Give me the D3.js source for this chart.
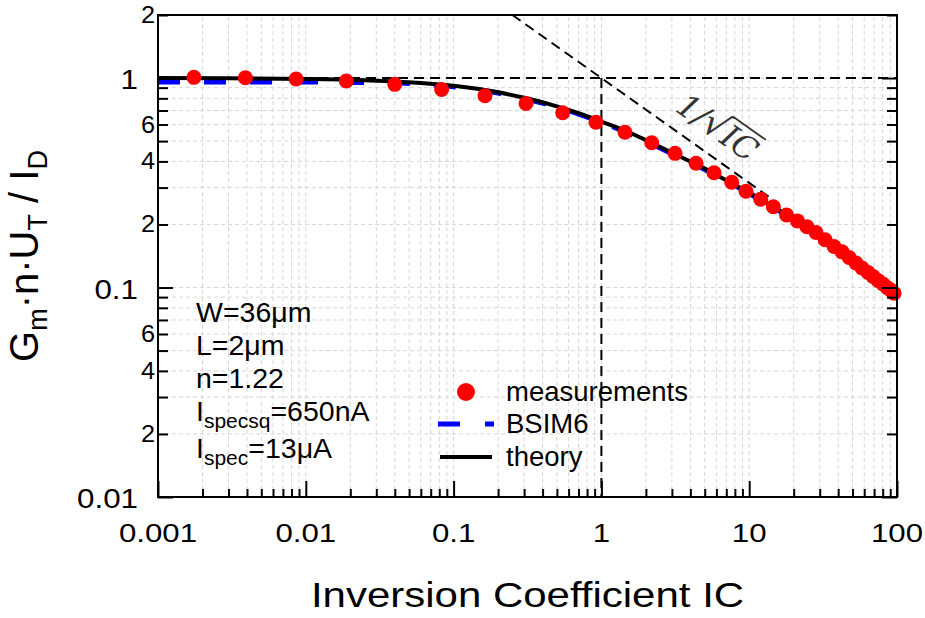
<!DOCTYPE html>
<html>
<head>
<meta charset="utf-8">
<script src="https://cdn.jsdelivr.net/npm/d3@7"></script>
<style>
  body { margin: 0; background: #fff; }
  svg { display: block; font-family: "Liberation Sans", Arial, sans-serif; }
</style>
</head>
<body>
<svg id="chart" width="925" height="618"></svg>
<script>
// measured points (IC, Gm*n*UT/ID)
const measIC = [0.00175, 0.0039, 0.0086, 0.0188, 0.040, 0.083, 0.163, 0.309, 0.547, 0.919,
  1.445, 2.19, 3.15, 4.37, 5.78, 7.62, 9.51, 11.96, 14.56, 17.9, 21.2,
  24.6, 28.3, 32.6, 37.5, 42.5, 47.4, 52.8, 58.0, 63.7, 68.8, 74.4, 80.4, 85.6, 91.1, 95.5];
const measGm = [1.008, 1.003, 0.989, 0.968, 0.933, 0.883, 0.823, 0.757, 0.683, 0.615,
  0.551, 0.491, 0.437, 0.392, 0.353, 0.318, 0.288, 0.264, 0.243, 0.222, 0.208,
  0.195, 0.183, 0.169, 0.157, 0.148, 0.139, 0.131, 0.124, 0.118, 0.113, 0.108, 0.104, 0.100, 0.097, 0.094];

// theory curve
const theoryIC = [0.001, 0.003, 0.01, 0.03, 0.06, 0.1, 0.2, 0.3, 0.5, 0.7, 1, 1.5, 2, 3, 5, 7, 10, 20, 30, 50, 70, 100];
const theoryGm = [1.0, 0.998, 0.99, 0.972, 0.948, 0.918, 0.855, 0.805, 0.733, 0.68, 0.62, 0.555, 0.505, 0.44, 0.37, 0.325, 0.284, 0.212, 0.176, 0.136, 0.112, 0.092];

// BSIM6 curve
const bsimIC = [0.001, 0.003, 0.01, 0.03, 0.06, 0.1, 0.2, 0.3, 0.5, 0.7, 1, 1.5, 2, 3, 5, 7, 10, 20, 30, 50, 70, 100];
const bsimGm = [0.958, 0.958, 0.957, 0.952, 0.935, 0.908, 0.848, 0.798, 0.726, 0.673, 0.613, 0.548, 0.499, 0.435, 0.366, 0.322, 0.281, 0.21, 0.174, 0.135, 0.111, 0.091];

// asymptote 1/sqrt(IC)
const asymIC = [0.25, 14];
const asymGm = [2, 0.267];

const xTickValues = [0.001, 0.01, 0.1, 1, 10, 100];
const xTickLabels = ["0.001", "0.01", "0.1", "1", "10", "100"];
const yMajorValues = [0.01, 0.1, 1];
const yMajorLabels = ["0.01", "0.1", "1"];
const yMinorLabelValues = [0.02, 0.04, 0.06, 0.2, 0.4, 0.6, 2];
const yMinorLabels = ["2", "4", "6", "2", "4", "6", "2"];

const annotations = [["W=36μm"], ["L=2μm"], ["n=1.22"], ["I", "specsq", "=650nA"], ["I", "spec", "=13μA"]];
const annotationBaselines = [322, 355, 388, 421, 458];
const legendLabels = ["measurements", "BSIM6", "theory"];

const width = 925, height = 618;
const padding = { top: 15, bottom: 121, left: 158, right: 28 };

const svg = d3.select("#chart");

const xScale = d3.scaleLog()
  .domain([0.001, 100])
  .range([padding.left, width - padding.right]);
const yScale = d3.scaleLog()
  .domain([0.01, 2])
  .range([height - padding.bottom, padding.top]);

const x0 = xScale.range()[0], x1 = xScale.range()[1];
const yB = yScale.range()[0], yT = yScale.range()[1];

// minor tick positions (2..9 in every decade)
let xMinor = [];
for (let d = -3; d < 2; d++) for (let m = 2; m <= 9; m++) xMinor.push(m * Math.pow(10, d));
let yMinor = [];
for (let d = -2; d < 1; d++) for (let m = 2; m <= 9; m++) yMinor.push(+(m * Math.pow(10, d)).toPrecision(3));
yMinor = yMinor.filter(v => v <= 2);

// grid
const grid = svg.append("g").attr("stroke", "#d6d6d6").attr("stroke-width", 1).attr("stroke-dasharray", "4,3");
grid.selectAll(".gx").data(xMinor.concat([0.01, 0.1, 1, 10])).join("line")
  .attr("x1", d => xScale(d)).attr("x2", d => xScale(d))
  .attr("y1", yB).attr("y2", yT);
grid.selectAll(".gy").data(yMinor.filter(v => v < 2).concat([0.1, 1])).join("line")
  .attr("y1", d => yScale(d)).attr("y2", d => yScale(d))
  .attr("x1", x0).attr("x2", x1);

// reference dashed lines
const ref = svg.append("g").attr("stroke", "#000").attr("stroke-width", 2).attr("stroke-dasharray", "10,6").attr("fill", "none");
ref.append("line")
  .attr("x1", xScale(0.001)).attr("x2", xScale(100))
  .attr("y1", yScale(1)).attr("y2", yScale(1));
ref.append("line")
  .attr("x1", xScale(1)).attr("x2", xScale(1))
  .attr("y1", yScale(1)).attr("y2", yScale(0.01));
ref.append("line")
  .attr("x1", xScale(asymIC[0])).attr("x2", xScale(asymIC[1]))
  .attr("y1", yScale(asymGm[0])).attr("y2", yScale(asymGm[1]));

// curves
const lineGen = d3.line()
  .x(d => xScale(d[0]))
  .y(d => yScale(d[1]))
  .curve(d3.curveMonotoneX);

svg.append("path")
  .datum(d3.zip(bsimIC, bsimGm))
  .attr("fill", "none")
  .attr("stroke", "#0000ff")
  .attr("stroke-width", 5)
  .attr("stroke-dasharray", "22,24")
  .attr("d", lineGen);

svg.append("path")
  .datum(d3.zip(theoryIC, theoryGm))
  .attr("fill", "none")
  .attr("stroke", "#000")
  .attr("stroke-width", 4)
  .attr("d", lineGen);

svg.append("g").selectAll("circle")
  .data(d3.zip(measIC, measGm))
  .join("circle")
  .attr("cx", d => xScale(d[0]))
  .attr("cy", d => yScale(d[1]))
  .attr("r", 7.5)
  .attr("fill", "#ff0000");

// frame
svg.append("rect")
  .attr("x", x0).attr("y", yT)
  .attr("width", x1 - x0).attr("height", yB - yT)
  .attr("fill", "none").attr("stroke", "#000").attr("stroke-width", 2);

// ticks (inside)
function tickAxis(axis, transform) {
  const g = svg.append("g").attr("transform", transform).call(axis);
  g.select(".domain").remove();
  g.selectAll("text").remove();
  g.selectAll("line").attr("stroke-width", 2);
}
tickAxis(d3.axisBottom(xScale).tickValues(xTickValues).tickSize(-16), `translate(0,${yB})`);
tickAxis(d3.axisBottom(xScale).tickValues(xMinor).tickSize(-8), `translate(0,${yB})`);
tickAxis(d3.axisLeft(yScale).tickValues(yMajorValues).tickSize(-15), `translate(${x0},0)`);
tickAxis(d3.axisLeft(yScale).tickValues(yMinor).tickSize(-10), `translate(${x0},0)`);
tickAxis(d3.axisRight(yScale).tickValues(yMajorValues).tickSize(-15), `translate(${x1},0)`);
tickAxis(d3.axisRight(yScale).tickValues(yMinor).tickSize(-10), `translate(${x1},0)`);

// text helper with horizontal stretch
function stretchText(parent, x, y, str, size, sx, anchor) {
  return parent.append("text")
    .attr("transform", `translate(${x},${y}) scale(${sx},1)`)
    .attr("text-anchor", anchor)
    .attr("font-size", size)
    .attr("fill", "#000")
    .text(str);
}

const labels = svg.append("g");
xTickValues.forEach((v, i) => stretchText(labels, xScale(v), 542, xTickLabels[i], 26, 1.2, "middle"));
yMajorValues.forEach((v, i) => stretchText(labels, 138, yScale(v) + 11, yMajorLabels[i], 28, 1.12, "end"));
yMinorLabelValues.forEach((v, i) => stretchText(labels, 155, yScale(v) + 8, yMinorLabels[i], 23, 1.1, "end"));

// axis titles
stretchText(labels, (x0 + x1) / 2, 607, "Inversion Coefficient IC", 35, 1.2, "middle");

const ylab = labels.append("text")
  .attr("transform", `translate(38,${(yB + yT) / 2}) rotate(-90)`)
  .attr("text-anchor", "middle")
  .attr("font-size", 40);
ylab.append("tspan").text("G");
ylab.append("tspan").attr("font-size", 27).attr("dy", 9).text("m");
ylab.append("tspan").attr("dy", -9).text("·n·U");
ylab.append("tspan").attr("font-size", 27).attr("dy", 9).text("T");
ylab.append("tspan").attr("dy", -9).text(" / I");
ylab.append("tspan").attr("font-size", 27).attr("dy", 9).text("D");

// annotation block
annotations.forEach((parts, i) => {
  const t = labels.append("text")
    .attr("x", 196).attr("y", annotationBaselines[i])
    .attr("font-size", 28.5);
  if (parts.length === 1) {
    t.text(parts[0]);
  } else {
    t.append("tspan").text(parts[0]);
    t.append("tspan").attr("font-size", 21).attr("dy", 7).text(parts[1]);
    t.append("tspan").attr("dy", -7).text(parts[2]);
  }
});

// slope label 1/sqrt(IC) with a drawn vinculum
const angle = Math.atan2(yScale(asymGm[1]) - yScale(asymGm[0]), xScale(asymIC[1]) - xScale(asymIC[0])) * 180 / Math.PI;
const slopeG = labels.append("g")
  .attr("transform", `translate(${xScale(6.1)},${yScale(0.58)}) rotate(${angle})`)
  .attr("fill", "#333");
const slopeText = slopeG.append("text")
  .attr("text-anchor", "middle")
  .attr("y", 11)
  .attr("font-family", "'DejaVu Serif', 'Liberation Serif', serif")
  .attr("font-size", 32);
slopeText.append("tspan").attr("font-style", "italic").text("1/");
slopeText.append("tspan").attr("font-size", 36).text("√");
const icSpan = slopeText.append("tspan").attr("font-style", "italic").text("IC");
const ext = icSpan.node().getExtentOfChar(0);
const icEnd = icSpan.node().getEndPositionOfChar(1);
slopeG.append("line")
  .attr("x1", ext.x - 2).attr("x2", icEnd.x + 1)
  .attr("y1", ext.y + 1).attr("y2", ext.y + 1)
  .attr("stroke", "#333").attr("stroke-width", 1.8);

// legend
const legend = svg.append("g");
const legendY = [392, 424, 457];
legend.append("circle").attr("cx", 466).attr("cy", legendY[0]).attr("r", 9).attr("fill", "#ff0000");
legend.append("line").attr("x1", 438).attr("x2", 494).attr("y1", legendY[1]).attr("y2", legendY[1])
  .attr("stroke", "#0000ff").attr("stroke-width", 5).attr("stroke-dasharray", "22,25");
legend.append("line").attr("x1", 440).attr("x2", 492).attr("y1", legendY[2]).attr("y2", legendY[2])
  .attr("stroke", "#000").attr("stroke-width", 4);
legend.selectAll("text").data(legendLabels).join("text")
  .attr("x", 506)
  .attr("y", (d, i) => legendY[i] + 9)
  .attr("font-size", 27.5)
  .text(d => d);
</script>
</body>
</html>
